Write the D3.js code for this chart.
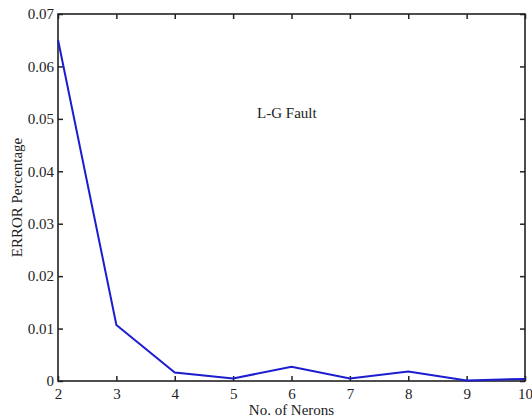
<!DOCTYPE html>
<html>
<head>
<meta charset="utf-8">
<script src="https://cdn.jsdelivr.net/npm/d3@7"></script>
<style>
  body { margin: 0; background: #fff; }
  text { font-family: "Liberation Serif", "DejaVu Serif", serif; fill: #222; }
</style>
</head>
<body>
<div id="chart"></div>
<script>
// Data
const neurons = [2, 3, 4, 5, 6, 7, 8, 9, 10];
const errorPct = [0.0651, 0.0107, 0.0016, 0.0005, 0.0027, 0.0005, 0.0018, 0.0001, 0.0004];
const xTicks = [2, 3, 4, 5, 6, 7, 8, 9, 10];
const yTicks = [0, 0.01, 0.02, 0.03, 0.04, 0.05, 0.06, 0.07];

const width = 532, height = 418;
const margin = { top: 14, right: 7, bottom: 37, left: 58 };
const innerW = width - margin.left - margin.right;
const innerH = height - margin.top - margin.bottom;

const svg = d3.select('#chart').append('svg')
    .attr('width', width)
    .attr('height', height);

const g = svg.append('g')
    .attr('transform', `translate(${margin.left}, ${margin.top})`);

const x = d3.scaleLinear().domain([2, 10]).range([0, innerW]);
const y = d3.scaleLinear().domain([0, 0.07]).range([innerH, 0]);

const fmtY = d => d === 0 ? '0' : d3.format('.2f')(d);

// Axes, matlab style: ticks inside, box on all sides
const tick = 5;
const xBottom = g.append('g')
    .attr('transform', `translate(0, ${innerH})`)
    .call(d3.axisBottom(x).tickValues(xTicks).tickSizeInner(-tick).tickSizeOuter(0).tickPadding(7));
const xTop = g.append('g')
    .call(d3.axisTop(x).tickValues(xTicks).tickSizeInner(-tick).tickSizeOuter(0).tickFormat(''));
const yLeft = g.append('g')
    .call(d3.axisLeft(y).tickValues(yTicks).tickSizeInner(-tick).tickSizeOuter(0).tickPadding(4).tickFormat(fmtY));
const yRight = g.append('g')
    .attr('transform', `translate(${innerW}, 0)`)
    .call(d3.axisRight(y).tickValues(yTicks).tickSizeInner(-tick).tickSizeOuter(0).tickFormat(''));

[xBottom, xTop, yLeft, yRight].forEach(a => {
    a.select('.domain').remove();
    a.selectAll('line').attr('stroke', '#222').attr('stroke-width', 1.5);
    a.selectAll('text')
        .style('font-family', '"Liberation Serif", serif')
        .style('font-size', '15px')
        .attr('fill', '#222');
});

// Box
g.append('rect')
    .attr('width', innerW)
    .attr('height', innerH)
    .attr('fill', 'none')
    .attr('stroke', '#222')
    .attr('stroke-width', 1.6);

// Line
const line = d3.line()
    .x((d, i) => x(neurons[i]))
    .y(d => y(d));

g.append('path')
    .datum(errorPct)
    .attr('d', line)
    .attr('fill', 'none')
    .attr('stroke', '#1c1cd0')
    .attr('stroke-width', 2);

// Labels
svg.append('text')
    .attr('x', margin.left + innerW / 2)
    .attr('y', 415)
    .attr('text-anchor', 'middle')
    .style('font-size', '15px')
    .text('No. of Nerons');

svg.append('text')
    .attr('transform', `translate(22, ${margin.top + innerH / 2}) rotate(-90)`)
    .attr('text-anchor', 'middle')
    .style('font-size', '15px')
    .text('ERROR Percentage');

g.append('text')
    .attr('x', x(5.41))
    .attr('y', y(0.0502))
    .style('font-size', '15px')
    .text('L-G Fault');
</script>
</body>
</html>
